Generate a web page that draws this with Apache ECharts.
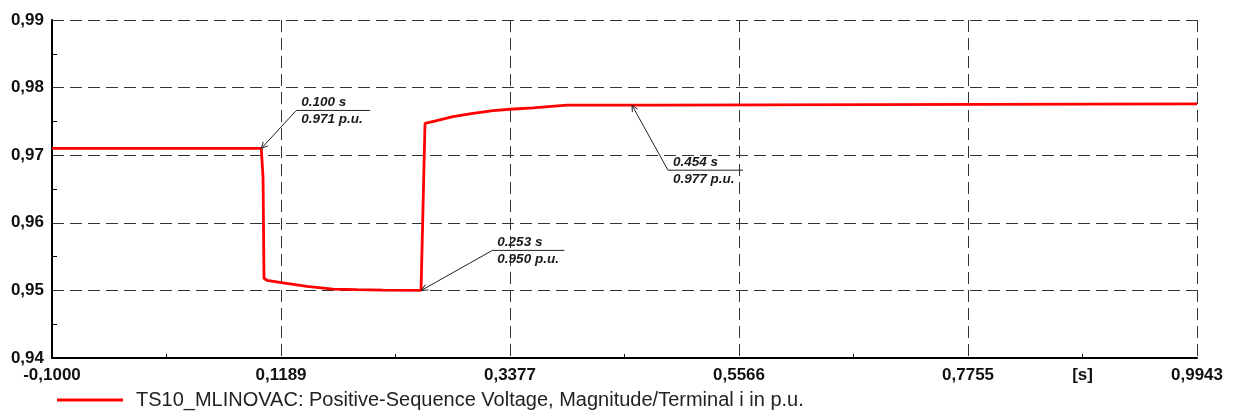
<!DOCTYPE html>
<html><head><meta charset="utf-8">
<script src="https://cdn.jsdelivr.net/npm/echarts@6/dist/echarts.min.js"></script>
<style>html,body{margin:0;padding:0;background:#fff}#c{width:1236px;height:414px}</style>
</head><body><div id="c"></div>
<script>
// ---- data ----
const seriesName = 'TS10_MLINOVAC: Positive-Sequence Voltage, Magnitude/Terminal i in p.u.';
const timeS = [-0.1, 0.1000, 0.1017, 0.1026, 0.1055, 0.1208, 0.1437, 0.1686, 0.1915, 0.2163, 0.2527,
  0.2565, 0.2677, 0.2832, 0.3024, 0.3215, 0.3377, 0.3597, 0.3922, 0.4556, 0.4800, 0.4811, 0.9943];
const voltagePU = [0.971, 0.971, 0.9667, 0.9518, 0.9515, 0.9511, 0.9506, 0.9502, 0.9501, 0.95003, 0.9500,
  0.9747, 0.9751, 0.9757, 0.9762, 0.9766, 0.9768, 0.9770, 0.9774, 0.9774, 0.9774, 0.9776, 0.9776];
const xTickValues = [-0.1, 0.1189, 0.3377, 0.5566, 0.7755, 0.9943];
const xMinorTickValues = [0.00945, 0.2283, 0.44715, 0.66605, 0.8849];
const xUnitLabel = '[s]';
const xUnitAt = 0.8849;
const yMin = 0.94, yMax = 0.99, yStep = 0.01;
const annTime = [0.100, 0.253, 0.4543];
const annValue = [0.971, 0.950, 0.9774];
const annTimeText = ['0.100 s', '0.253 s', '0.454 s'];
const annValueText = ['0.971 p.u.', '0.950 p.u.', '0.977 p.u.'];

// ---- layout / style of annotation leaders (pixel offsets) ----
const annLayout = [
  {dx: 35, dy: -38, len: 74},
  {dx: 71, dy: -40, len: 72},
  {dx: 36, dy: 65, len: 75}
];
const FONT = '"Liberation Sans", Arial, sans-serif';

const lineData = timeS.map((t, i) => [t, voltagePU[i]]);
const annData = annTime.map((t, i) => [t, annValue[i]]);

const chart = echarts.init(document.getElementById('c'), null, {renderer: 'canvas'});
chart.setOption({
  animation: false,
  backgroundColor: '#fff',
  grid: {left: 52, right: 39, top: 20, bottom: 56, containLabel: false, outerBoundsMode: 'none'},
  legend: {
    show: true, left: 52, top: 385, data: [seriesName],
    icon: 'rect', itemWidth: 66, itemHeight: 3, itemGap: 10,
    textStyle: {fontFamily: FONT, fontSize: 20, color: '#222', padding: [0, 0, 0, 8]},
    itemStyle: {color: '#ff0000'}
  },
  xAxis: [{
    type: 'value', position: 'bottom', min: -0.1, max: 0.9943,
    axisLine: {show: true, onZero: false, lineStyle: {color: '#000', width: 2}},
    axisTick: {show: false, customValues: xTickValues},
    axisLabel: {
      show: true, customValues: xTickValues.concat([xUnitAt]), margin: 9,
      showMinLabel: true, showMaxLabel: true, hideOverlap: false,
      fontFamily: FONT, fontSize: 17, fontWeight: 'bold', color: '#111',
      formatter: v => Math.abs(v - xUnitAt) < 1e-6 ? xUnitLabel : v.toFixed(4).replace('.', ',')
    },
    splitLine: {show: true, lineStyle: {color: '#333', width: 1, type: [12, 6]}}
  }, {
    type: 'value', position: 'bottom', min: -0.1, max: 0.9943,
    axisLine: {show: false, onZero: false},
    axisTick: {show: true, inside: true, length: 4, customValues: xMinorTickValues, lineStyle: {color: '#000', width: 1}},
    axisLabel: {show: false},
    splitLine: {show: false}
  }],
  yAxis: {
    type: 'value', min: yMin, max: yMax, interval: yStep,
    axisLine: {show: true, onZero: false, lineStyle: {color: '#000', width: 2}},
    axisTick: {show: false, inside: true},
    minorTick: {show: true, splitNumber: 2, length: 5, lineStyle: {color: '#000', width: 1}},
    minorSplitLine: {show: false},
    axisLabel: {
      margin: 8, fontFamily: FONT, fontSize: 17, fontWeight: 'bold', color: '#111',
      showMinLabel: true, showMaxLabel: true,
      formatter: v => v.toFixed(2).replace('.', ',')
    },
    splitLine: {show: true, lineStyle: {color: '#333', width: 1, type: [12, 6]}}
  },
  series: [{
    name: seriesName, type: 'line', data: lineData, showSymbol: false, symbol: 'none',
    lineStyle: {color: '#ff0000', width: 2.8}, itemStyle: {color: '#ff0000'}, z: 3
  }, {
    name: 'annotations', type: 'custom', data: annData, clip: false, z: 4,
    encode: {x: 0, y: 1},
    renderItem: function (params, api) {
      const i = params.dataIndex;
      const p = api.coord([api.value(0), api.value(1)]);
      const L = annLayout[i];
      const kx = p[0] + L.dx, ky = p[1] + L.dy;
      const ang = Math.atan2(ky - p[1], kx - p[0]);
      const ah = 7, aw = 0.45;
      const a1 = [p[0] + ah * Math.cos(ang + aw), p[1] + ah * Math.sin(ang + aw)];
      const a2 = [p[0] + ah * Math.cos(ang - aw), p[1] + ah * Math.sin(ang - aw)];
      const tf = 'italic bold 13.5px ' + FONT;
      return {type: 'group', children: [
        {type: 'polyline', shape: {points: [p, [kx, ky], [kx + L.len, ky]]}, style: {stroke: '#222', lineWidth: 1, fill: null}},
        {type: 'polyline', shape: {points: [a1, p, a2]}, style: {stroke: '#222', lineWidth: 1, fill: null}},
        {type: 'text', x: kx + 5, y: ky - 1, style: {text: annTimeText[i], font: tf, fill: '#1a1a1a', align: 'left', verticalAlign: 'bottom'}},
        {type: 'text', x: kx + 5, y: ky + 2, style: {text: annValueText[i], font: tf, fill: '#1a1a1a', align: 'left', verticalAlign: 'top'}}
      ]};
    }
  }]
});
</script>
</body></html>
